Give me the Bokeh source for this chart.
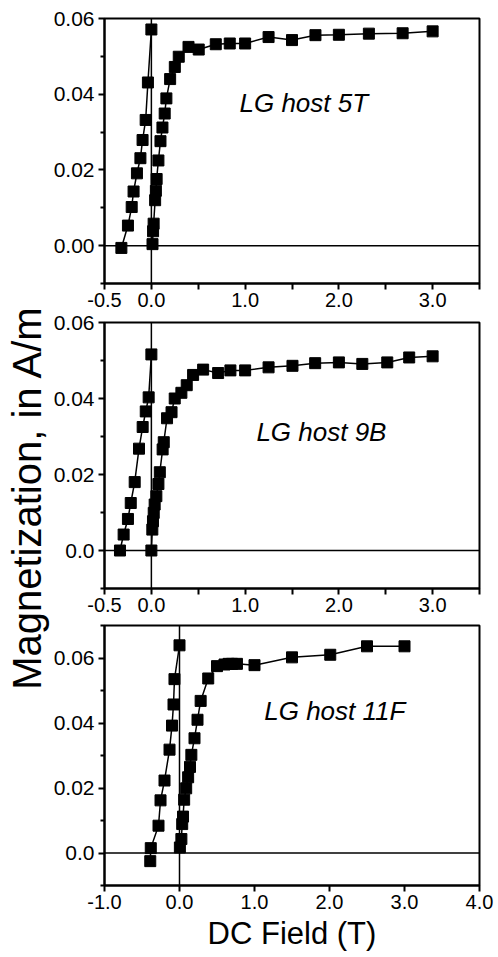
import math
from bokeh.plotting import figure
from bokeh.models import Range1d, FixedTicker, Span, Label
from bokeh.layouts import row, column
from bokeh.core.properties import value
from bokeh.embed import file_html
from bokeh.resources import INLINE

FONT = "Liberation Sans"

# ---------------- data ----------------
# LG host 5T
x5_down = [-0.32, -0.25, -0.21, -0.19, -0.154, -0.117, -0.094, -0.061, -0.037, 0.0]
y5_down = [-0.0006, 0.0053, 0.0102, 0.0143, 0.0191, 0.0231, 0.0279, 0.0332, 0.0431, 0.0571]
x5_up = [0.012, 0.018, 0.024, 0.04, 0.048, 0.056, 0.075, 0.097, 0.118, 0.142, 0.16, 0.2, 0.25, 0.292,
         0.396, 0.505, 0.687, 0.836, 1.0, 1.25, 1.5, 1.75, 2.0, 2.32, 2.68, 3.0]
y5_up = [0.0004, 0.0038, 0.0058, 0.012, 0.0145, 0.0176, 0.0225, 0.0276, 0.0312, 0.0349, 0.0389, 0.044,
         0.0472, 0.0499, 0.0525, 0.0518, 0.0532, 0.0534, 0.0534, 0.0551, 0.0543, 0.0556, 0.0557, 0.056,
         0.0561, 0.0566]

# LG host 9B
x9_down = [-0.335, -0.296, -0.25, -0.22, -0.178, -0.132, -0.093, -0.06, -0.029, 0.0]
y9_down = [0.0, 0.0042, 0.0083, 0.0125, 0.018, 0.0268, 0.0325, 0.0366, 0.0403, 0.0516]
x9_up = [0.0, 0.01, 0.017, 0.025, 0.035, 0.053, 0.075, 0.09, 0.12, 0.132, 0.167, 0.215, 0.249, 0.32,
         0.377, 0.445, 0.552, 0.712, 0.843, 1.0, 1.25, 1.505, 1.747, 2.0, 2.25, 2.516, 2.75, 3.0]
y9_up = [0.0, 0.0055, 0.0077, 0.0099, 0.0121, 0.0143, 0.0175, 0.0206, 0.0266, 0.0285, 0.0348, 0.0364,
         0.04, 0.0415, 0.0435, 0.0462, 0.0476, 0.0467, 0.0474, 0.0474, 0.0482, 0.0486, 0.0493, 0.0495,
         0.0491, 0.0495, 0.0508, 0.0511]

# LG host 11F
x11_down = [-0.39, -0.383, -0.28, -0.253, -0.2, -0.133, -0.1, -0.08, -0.067, 0.0]
y11_down = [-0.0025, 0.0015, 0.0084, 0.0162, 0.0223, 0.0318, 0.0392, 0.0457, 0.0535, 0.0639]
x11_up = [0.005, 0.025, 0.036, 0.047, 0.062, 0.089, 0.115, 0.14, 0.158, 0.2, 0.24, 0.282, 0.383, 0.5,
          0.6, 0.655, 0.7, 0.766, 1.0, 1.5, 2.01, 2.5, 3.0]
y11_up = [0.0017, 0.0043, 0.0089, 0.0112, 0.0164, 0.0199, 0.0233, 0.0265, 0.0302, 0.0353, 0.041,
          0.0468, 0.0537, 0.0575, 0.058, 0.0582, 0.0582, 0.0582, 0.0578, 0.0602, 0.061, 0.0636, 0.0636]

# axes / ticks
xticks_top = [-0.5, 0.0, 1.0, 2.0, 3.0]
xminor_top = [0.5, 1.5, 2.5, 3.5]
xlabels_top = ["-0.5", "0.0", "1.0", "2.0", "3.0"]
xticks_bot = [-1.0, 0.0, 1.0, 2.0, 3.0, 4.0]
xlabels_bot = ["-1.0", "0.0", "1.0", "2.0", "3.0", "4.0"]
yticks = [0.0, 0.02, 0.04, 0.06]
ylabels_5T = ["0.00", "0.02", "0.04", "0.06"]
ylabels_other = ["0.0", "0.02", "0.04", "0.06"]
yminor_a = [-0.01, 0.01, 0.03, 0.05]
yminor_b = [-0.01, 0.01, 0.03, 0.05, 0.07]

notes = ["LG host 5T", "LG host 9B", "LG host 11F"]
note_pos = [(0.94, 0.0376), (1.12, 0.0312), (1.13, 0.0436)]

y_title = "Magnetization, in A/m"
x_title = "DC Field (T)"

SIDE_W = 50
MAIN_W = 448


def panel(xa, ya, xb, yb, xr, yr, xt, xm, xl, yt, ym, yl, note, npos, height, top, xlabel=None):
    p = figure(width=MAIN_W, height=height, x_range=Range1d(*xr), y_range=Range1d(*yr),
               output_backend="svg", toolbar_location=None,
               min_border_left=53, min_border_right=19, min_border_top=top, min_border_bottom=0)
    p.grid.visible = False
    p.outline_line_color = "black"
    p.outline_line_width = 2
    p.outline_line_alpha = 1
    p.background_fill_color = "white"
    p.border_fill_color = "white"

    p.xaxis.ticker = FixedTicker(ticks=xt, minor_ticks=xm)
    p.xaxis.major_label_overrides = {t: l for t, l in zip(xt, xl)}
    p.yaxis.ticker = FixedTicker(ticks=yt, minor_ticks=ym)
    p.yaxis.major_label_overrides = {t: l for t, l in zip(yt, yl)}
    for ax in (p.xaxis[0], p.yaxis[0]):
        ax.axis_line_width = 2
        ax.axis_line_color = "black"
        ax.major_tick_line_width = 2
        ax.minor_tick_line_width = 2
        ax.major_tick_line_color = "black"
        ax.minor_tick_line_color = "black"
        ax.major_tick_in = 0
        ax.minor_tick_in = 0
        ax.major_label_text_font = FONT
        ax.major_label_text_color = "black"
    p.xaxis.major_tick_out = 6
    p.xaxis.minor_tick_out = 6
    p.yaxis.major_tick_out = 6
    p.yaxis.minor_tick_out = 4
    p.xaxis.major_label_text_font_size = "20px"
    p.yaxis.major_label_text_font_size = "21px"
    p.xaxis.major_label_standoff = 3
    p.yaxis.major_label_standoff = 4

    if xlabel:
        p.xaxis.axis_label = xlabel
        p.xaxis.axis_label_text_font = FONT
        p.xaxis.axis_label_text_font_size = "31px"
        p.xaxis.axis_label_text_font_style = "normal"
        p.xaxis.axis_label_text_color = "black"
        p.xaxis.axis_label_standoff = 4

    p.add_layout(Span(location=0, dimension="width", line_color="black", line_width=1.5))
    p.add_layout(Span(location=0, dimension="height", line_color="black", line_width=1.5))

    p.line(xa, ya, line_color="black", line_width=1.5)
    p.line(xb, yb, line_color="black", line_width=1.5)
    p.scatter(xa, ya, marker="square", size=11, fill_color="black", line_color="black")
    p.scatter(xb, yb, marker="square", size=11, fill_color="black", line_color="black")

    p.add_layout(Label(x=npos[0], y=npos[1], text=note, text_font=FONT, text_font_size="26px",
                       text_font_style="italic", text_color="black", text_baseline="alphabetic"))
    return p


H1, H2, H3 = 309, 305, 339
p1 = panel(x5_down, y5_down, x5_up, y5_up, (-0.5, 3.5), (-0.01, 0.06),
           xticks_top, xminor_top, xlabels_top, yticks, yminor_a, ylabels_5T,
           notes[0], note_pos[0], H1, 18)
p2 = panel(x9_down, y9_down, x9_up, y9_up, (-0.5, 3.5), (-0.01, 0.06),
           xticks_top, xminor_top, xlabels_top, yticks, yminor_a, ylabels_other,
           notes[1], note_pos[1], H2, 13)
p3 = panel(x11_down, y11_down, x11_up, y11_up, (-1.0, 4.0), (-0.01, 0.07),
           xticks_bot, [], xlabels_bot, yticks, yminor_b, ylabels_other,
           notes[2], note_pos[2], H3, 11, xlabel=x_title)

# side figure carrying the shared y-axis title
H = H1 + H2 + H3
lab = figure(width=SIDE_W, height=H, x_range=Range1d(0, SIDE_W), y_range=Range1d(0, H),
             output_backend="svg", toolbar_location=None, x_axis_type=None, y_axis_type=None,
             min_border=0)
lab.grid.visible = False
lab.outline_line_color = None
lab.text(x=[26], y=[H - 497], text=[y_title], angle=math.pi / 2,
         text_font=value(FONT), text_font_size="40px", text_align="center",
         text_baseline="middle", text_color="black")

layout = row(lab, column(p1, p2, p3))

open("out.html", "w").write(file_html(layout, INLINE))
